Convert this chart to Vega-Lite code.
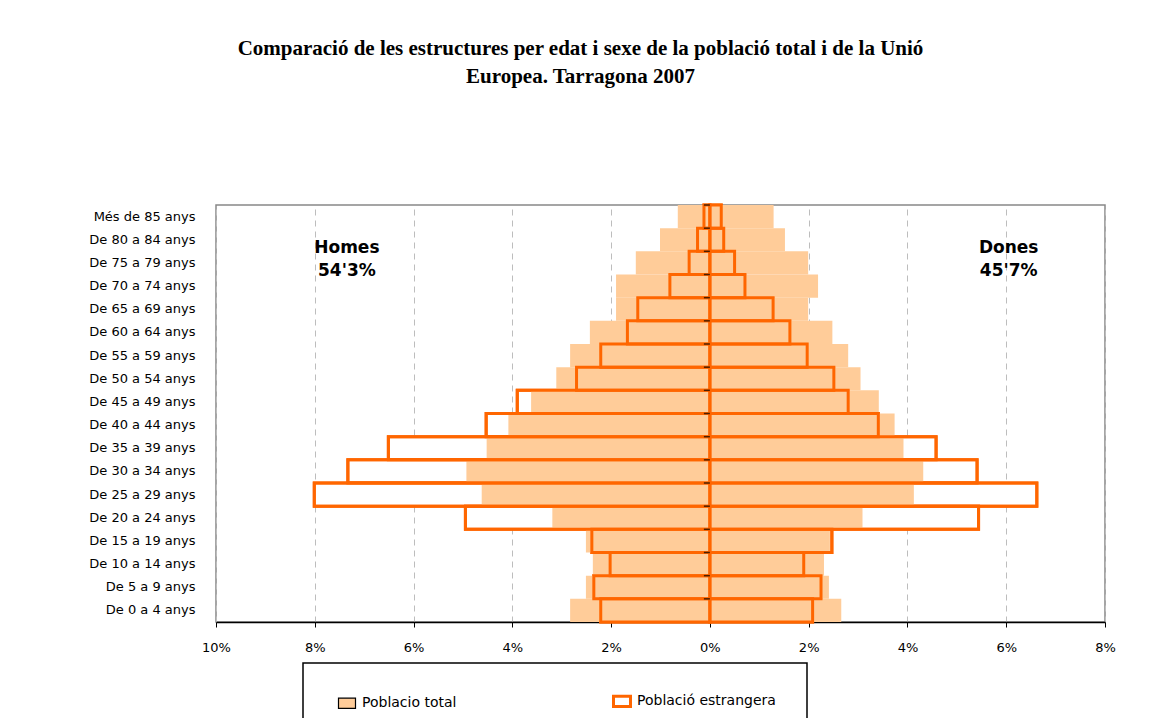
{
  "$schema": "https://vega.github.io/schema/vega-lite/v6.json",
  "width": 889,
  "height": 417,
  "autosize": {"type": "none"},
  "padding": {"left": 216, "top": 205, "right": 47, "bottom": 96},
  "background": "white",
  "title": {
    "text": ["Comparació de les estructures per edat i sexe de la població total i de la Unió", "Europea. Tarragona 2007"],
    "font": "Liberation Serif",
    "fontSize": 21,
    "fontWeight": "bold",
    "lineHeight": 28,
    "offset": 117,
    "dx": -80,
    "anchor": "middle",
    "frame": "group",
    "color": "black"
  },
  "datasets": {
    "piramide": [
      {"edat": "Més de 85 anys", "sexe": "Homes", "serie": "Poblacio total", "valor": -0.65},
      {"edat": "Més de 85 anys", "sexe": "Homes", "serie": "Població estrangera", "valor": -0.12},
      {"edat": "Més de 85 anys", "sexe": "Dones", "serie": "Poblacio total", "valor": 1.29},
      {"edat": "Més de 85 anys", "sexe": "Dones", "serie": "Població estrangera", "valor": 0.23},
      {"edat": "De 80 a 84 anys", "sexe": "Homes", "serie": "Poblacio total", "valor": -1.01},
      {"edat": "De 80 a 84 anys", "sexe": "Homes", "serie": "Població estrangera", "valor": -0.25},
      {"edat": "De 80 a 84 anys", "sexe": "Dones", "serie": "Poblacio total", "valor": 1.52},
      {"edat": "De 80 a 84 anys", "sexe": "Dones", "serie": "Població estrangera", "valor": 0.28},
      {"edat": "De 75 a 79 anys", "sexe": "Homes", "serie": "Poblacio total", "valor": -1.50},
      {"edat": "De 75 a 79 anys", "sexe": "Homes", "serie": "Població estrangera", "valor": -0.42},
      {"edat": "De 75 a 79 anys", "sexe": "Dones", "serie": "Poblacio total", "valor": 1.99},
      {"edat": "De 75 a 79 anys", "sexe": "Dones", "serie": "Població estrangera", "valor": 0.50},
      {"edat": "De 70 a 74 anys", "sexe": "Homes", "serie": "Poblacio total", "valor": -1.90},
      {"edat": "De 70 a 74 anys", "sexe": "Homes", "serie": "Població estrangera", "valor": -0.81},
      {"edat": "De 70 a 74 anys", "sexe": "Dones", "serie": "Poblacio total", "valor": 2.19},
      {"edat": "De 70 a 74 anys", "sexe": "Dones", "serie": "Població estrangera", "valor": 0.71},
      {"edat": "De 65 a 69 anys", "sexe": "Homes", "serie": "Poblacio total", "valor": -1.90},
      {"edat": "De 65 a 69 anys", "sexe": "Homes", "serie": "Població estrangera", "valor": -1.46},
      {"edat": "De 65 a 69 anys", "sexe": "Dones", "serie": "Poblacio total", "valor": 1.99},
      {"edat": "De 65 a 69 anys", "sexe": "Dones", "serie": "Població estrangera", "valor": 1.28},
      {"edat": "De 60 a 64 anys", "sexe": "Homes", "serie": "Poblacio total", "valor": -2.43},
      {"edat": "De 60 a 64 anys", "sexe": "Homes", "serie": "Població estrangera", "valor": -1.67},
      {"edat": "De 60 a 64 anys", "sexe": "Dones", "serie": "Poblacio total", "valor": 2.48},
      {"edat": "De 60 a 64 anys", "sexe": "Dones", "serie": "Població estrangera", "valor": 1.62},
      {"edat": "De 55 a 59 anys", "sexe": "Homes", "serie": "Poblacio total", "valor": -2.83},
      {"edat": "De 55 a 59 anys", "sexe": "Homes", "serie": "Població estrangera", "valor": -2.21},
      {"edat": "De 55 a 59 anys", "sexe": "Dones", "serie": "Poblacio total", "valor": 2.80},
      {"edat": "De 55 a 59 anys", "sexe": "Dones", "serie": "Població estrangera", "valor": 1.97},
      {"edat": "De 50 a 54 anys", "sexe": "Homes", "serie": "Poblacio total", "valor": -3.11},
      {"edat": "De 50 a 54 anys", "sexe": "Homes", "serie": "Població estrangera", "valor": -2.70},
      {"edat": "De 50 a 54 anys", "sexe": "Dones", "serie": "Poblacio total", "valor": 3.05},
      {"edat": "De 50 a 54 anys", "sexe": "Dones", "serie": "Població estrangera", "valor": 2.51},
      {"edat": "De 45 a 49 anys", "sexe": "Homes", "serie": "Poblacio total", "valor": -3.62},
      {"edat": "De 45 a 49 anys", "sexe": "Homes", "serie": "Població estrangera", "valor": -3.90},
      {"edat": "De 45 a 49 anys", "sexe": "Dones", "serie": "Poblacio total", "valor": 3.42},
      {"edat": "De 45 a 49 anys", "sexe": "Dones", "serie": "Població estrangera", "valor": 2.80},
      {"edat": "De 40 a 44 anys", "sexe": "Homes", "serie": "Poblacio total", "valor": -4.08},
      {"edat": "De 40 a 44 anys", "sexe": "Homes", "serie": "Població estrangera", "valor": -4.53},
      {"edat": "De 40 a 44 anys", "sexe": "Dones", "serie": "Poblacio total", "valor": 3.74},
      {"edat": "De 40 a 44 anys", "sexe": "Dones", "serie": "Població estrangera", "valor": 3.41},
      {"edat": "De 35 a 39 anys", "sexe": "Homes", "serie": "Poblacio total", "valor": -4.52},
      {"edat": "De 35 a 39 anys", "sexe": "Homes", "serie": "Població estrangera", "valor": -6.51},
      {"edat": "De 35 a 39 anys", "sexe": "Dones", "serie": "Poblacio total", "valor": 3.92},
      {"edat": "De 35 a 39 anys", "sexe": "Dones", "serie": "Població estrangera", "valor": 4.58},
      {"edat": "De 30 a 34 anys", "sexe": "Homes", "serie": "Poblacio total", "valor": -4.93},
      {"edat": "De 30 a 34 anys", "sexe": "Homes", "serie": "Població estrangera", "valor": -7.33},
      {"edat": "De 30 a 34 anys", "sexe": "Dones", "serie": "Poblacio total", "valor": 4.32},
      {"edat": "De 30 a 34 anys", "sexe": "Dones", "serie": "Població estrangera", "valor": 5.41},
      {"edat": "De 25 a 29 anys", "sexe": "Homes", "serie": "Poblacio total", "valor": -4.62},
      {"edat": "De 25 a 29 anys", "sexe": "Homes", "serie": "Població estrangera", "valor": -8.01},
      {"edat": "De 25 a 29 anys", "sexe": "Dones", "serie": "Poblacio total", "valor": 4.13},
      {"edat": "De 25 a 29 anys", "sexe": "Dones", "serie": "Població estrangera", "valor": 6.62},
      {"edat": "De 20 a 24 anys", "sexe": "Homes", "serie": "Poblacio total", "valor": -3.19},
      {"edat": "De 20 a 24 anys", "sexe": "Homes", "serie": "Població estrangera", "valor": -4.95},
      {"edat": "De 20 a 24 anys", "sexe": "Dones", "serie": "Poblacio total", "valor": 3.09},
      {"edat": "De 20 a 24 anys", "sexe": "Dones", "serie": "Població estrangera", "valor": 5.44},
      {"edat": "De 15 a 19 anys", "sexe": "Homes", "serie": "Poblacio total", "valor": -2.51},
      {"edat": "De 15 a 19 anys", "sexe": "Homes", "serie": "Població estrangera", "valor": -2.39},
      {"edat": "De 15 a 19 anys", "sexe": "Dones", "serie": "Poblacio total", "valor": 2.43},
      {"edat": "De 15 a 19 anys", "sexe": "Dones", "serie": "Població estrangera", "valor": 2.47},
      {"edat": "De 10 a 14 anys", "sexe": "Homes", "serie": "Poblacio total", "valor": -2.37},
      {"edat": "De 10 a 14 anys", "sexe": "Homes", "serie": "Població estrangera", "valor": -2.02},
      {"edat": "De 10 a 14 anys", "sexe": "Dones", "serie": "Poblacio total", "valor": 2.31},
      {"edat": "De 10 a 14 anys", "sexe": "Dones", "serie": "Població estrangera", "valor": 1.90},
      {"edat": "De 5 a 9 anys", "sexe": "Homes", "serie": "Poblacio total", "valor": -2.51},
      {"edat": "De 5 a 9 anys", "sexe": "Homes", "serie": "Població estrangera", "valor": -2.35},
      {"edat": "De 5 a 9 anys", "sexe": "Dones", "serie": "Poblacio total", "valor": 2.41},
      {"edat": "De 5 a 9 anys", "sexe": "Dones", "serie": "Població estrangera", "valor": 2.25},
      {"edat": "De 0 a 4 anys", "sexe": "Homes", "serie": "Poblacio total", "valor": -2.83},
      {"edat": "De 0 a 4 anys", "sexe": "Homes", "serie": "Població estrangera", "valor": -2.21},
      {"edat": "De 0 a 4 anys", "sexe": "Dones", "serie": "Poblacio total", "valor": 2.66},
      {"edat": "De 0 a 4 anys", "sexe": "Dones", "serie": "Població estrangera", "valor": 2.08}
    ],
    "etiquetes": [
      {"edat": "De 80 a 84 anys", "x": -7.35, "text": "Homes"},
      {"edat": "De 75 a 79 anys", "x": -7.35, "text": "54'3%"},
      {"edat": "De 80 a 84 anys", "x": 6.05, "text": "Dones"},
      {"edat": "De 75 a 79 anys", "x": 6.05, "text": "45'7%"}
    ]
  },
  "encoding": {
    "y": {
      "field": "edat",
      "type": "nominal",
      "title": null,
      "sort": null,
      "scale": {
        "domain": ["Més de 85 anys", "De 80 a 84 anys", "De 75 a 79 anys", "De 70 a 74 anys", "De 65 a 69 anys", "De 60 a 64 anys", "De 55 a 59 anys", "De 50 a 54 anys", "De 45 a 49 anys", "De 40 a 44 anys", "De 35 a 39 anys", "De 30 a 34 anys", "De 25 a 29 anys", "De 20 a 24 anys", "De 15 a 19 anys", "De 10 a 14 anys", "De 5 a 9 anys", "De 0 a 4 anys"],
        "paddingInner": 0,
        "paddingOuter": 0
      },
      "axis": {
        "ticks": false,
        "domain": false,
        "labelPadding": 21,
        "labelFont": "DejaVu Sans",
        "labelFontSize": 13,
        "labelColor": "black"
      }
    }
  },
  "layer": [
    {
      "data": {"name": "piramide"},
      "transform": [{"filter": "datum.serie == 'Població estrangera'"}],
      "mark": {"type": "bar", "strokeWidth": 3},
      "encoding": {
        "x": {
          "field": "valor",
          "type": "quantitative",
          "title": null,
          "scale": {"domain": [-10, 8], "nice": false},
          "axis": {
            "values": [-10, -8, -6, -4, -2, 0, 2, 4, 6, 8],
            "labelExpr": "format(abs(datum.value), 'd') + '%'",
            "labelFlush": false,
            "labelFont": "DejaVu Sans",
            "labelFontSize": 13,
            "labelColor": "black",
            "labelPadding": 14,
            "tickSize": 5,
            "tickColor": "black",
            "domainColor": "black",
            "domainWidth": 1.5,
            "grid": true,
            "gridColor": "#bdbdbd",
            "gridDash": [6, 5],
            "gridWidth": 1
          }
        },
        "fill": {
          "field": "serie",
          "type": "nominal",
          "scale": {"domain": ["Poblacio total", "Població estrangera"], "range": ["#FFCC99", "#FFFFFF"]},
          "legend": {
            "title": null,
            "encode": {"symbols": {"update": {"strokeWidth": {"signal": "datum.value == 'Poblacio total' ? 1.2 : 3"}}}}
          }
        },
        "stroke": {
          "field": "serie",
          "type": "nominal",
          "scale": {"domain": ["Poblacio total", "Població estrangera"], "range": ["#000000", "#FF6600"]},
          "legend": {
            "title": null,
            "encode": {"symbols": {"update": {"strokeWidth": {"signal": "datum.value == 'Poblacio total' ? 1.2 : 3"}}}}
          }
        }
      }
    },
    {
      "data": {"name": "piramide"},
      "transform": [{"filter": "datum.serie == 'Poblacio total'"}],
      "mark": {"type": "bar", "strokeWidth": 0},
      "encoding": {
        "x": {"field": "valor", "type": "quantitative"},
        "fill": {"field": "serie", "type": "nominal"}
      }
    },
    {
      "data": {"name": "piramide"},
      "transform": [{"filter": "datum.serie == 'Població estrangera'"}],
      "mark": {"type": "bar", "filled": false, "stroke": "#FF6600", "strokeWidth": 3},
      "encoding": {
        "x": {"field": "valor", "type": "quantitative"}
      }
    },
    {
      "data": {"values": [{"zero": 0}]},
      "mark": {"type": "rule", "color": "black", "strokeWidth": 1.5},
      "encoding": {
        "x": {"field": "zero", "type": "quantitative"}
      }
    },
    {
      "data": {"name": "piramide"},
      "transform": [{"filter": "datum.serie == 'Poblacio total' && datum.sexe == 'Homes'"}],
      "mark": {"type": "tick", "orient": "horizontal", "color": "black", "size": 6, "thickness": 1.5, "xOffset": -3, "yOffset": -11.58},
      "encoding": {
        "x": {"datum": 0, "type": "quantitative"}
      }
    },
    {
      "data": {"name": "etiquetes"},
      "mark": {"type": "text", "font": "DejaVu Sans", "fontWeight": "bold", "fontSize": 17, "color": "black", "align": "center", "baseline": "alphabetic", "dy": 13},
      "encoding": {
        "x": {"field": "x", "type": "quantitative"},
        "text": {"field": "text"}
      }
    }
  ],
  "config": {
    "view": {"stroke": "#888888", "strokeWidth": 1.5},
    "legend": {
      "orient": "none",
      "legendX": 87,
      "legendY": 458,
      "direction": "horizontal",
      "strokeColor": "black",
      "strokeWidth": 1.5,
      "fillColor": "white",
      "padding": 31,
      "symbolOffset": 6,
      "symbolType": "M-1,-0.6H1V0.6H-1Z",
      "symbolSize": 289,
      "symbolStrokeWidth": 2,
      "labelFont": "DejaVu Sans",
      "labelFontSize": 14,
      "labelColor": "black",
      "labelOffset": 8,
      "labelLimit": 400,
      "columnPadding": 150
    }
  }
}
